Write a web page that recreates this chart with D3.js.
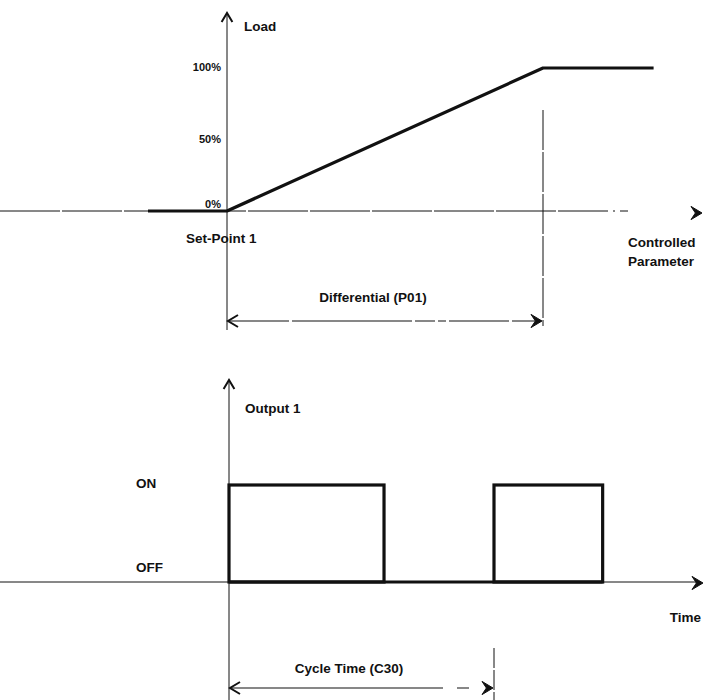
<!DOCTYPE html>
<html>
<head>
<meta charset="utf-8">
<script src="https://cdn.jsdelivr.net/npm/d3@7"></script>
<style>
  html, body { margin: 0; padding: 0; background: #fff; }
  svg { display: block; }
  text { font-family: "Liberation Sans", Arial, sans-serif; font-weight: bold; fill: #111; }
</style>
</head>
<body>
<svg id="chart" width="703" height="700"></svg>
<script>
// ---------- Data ----------
// Top: Load (%) vs controlled parameter (0 = Set-Point 1, 1 = Set-Point 1 + Differential)
const loadParam = [-0.25, 0, 1, 1.35];
const loadValue = [0, 0, 100, 100];
const loadTicks = [0, 50, 100];
const loadTickLabels = ["0%", "50%", "100%"];
const differential = 1;

// Bottom: Output 1 state vs time (in cycle-time units)
const pulseStart = [0, 1];
const pulseEnd = [0.585, 1.41];
const outputStates = [0, 1];
const outputStateLabels = ["OFF", "ON"];
const cycleTime = 1;

// ---------- Setup ----------
const svg = d3.select("#chart");
const ink = "#111";

function chevron(g, x, y, dir, size, filled) {
  const s = size;
  let pts;
  if (dir === "right") pts = [[x - s, y - s * 0.6], [x, y], [x - s, y + s * 0.6]];
  if (dir === "left") pts = [[x + s, y - s * 0.6], [x, y], [x + s, y + s * 0.6]];
  if (dir === "up") pts = [[x - s * 0.6, y + s], [x, y], [x + s * 0.6, y + s]];
  if (filled) {
    const inner = dir === "right" ? [x - s * 0.6, y] : dir === "left" ? [x + s * 0.6, y] : [x, y + s * 0.6];
    g.append("path").attr("d", d3.line()([pts[0], pts[1], pts[2], inner]) + "Z")
      .attr("fill", ink).attr("stroke", ink).attr("stroke-width", 1);
  } else {
    g.append("path").attr("d", d3.line()(pts)).attr("fill", "none")
      .attr("stroke", ink).attr("stroke-width", 2);
  }
}

// ---------- Top chart ----------
const gTop = svg.append("g");
const xTop = d3.scaleLinear().domain([0, 1]).range([227, 543]);
const yTop = d3.scaleLinear().domain([0, 100]).range([211, 68]);

gTop.append("line").attr("x1", xTop(0)).attr("x2", xTop(0)).attr("y1", 14).attr("y2", 330)
  .attr("stroke", ink).attr("stroke-width", 1);
chevron(gTop, xTop(0), 13, "up", 9, false);

gTop.append("line").attr("x1", 0).attr("x2", 600).attr("y1", yTop(0)).attr("y2", yTop(0))
  .attr("stroke", ink).attr("stroke-width", 1).attr("stroke-dasharray", "60,2");
gTop.append("line").attr("x1", 600).attr("x2", 632).attr("y1", yTop(0)).attr("y2", yTop(0))
  .attr("stroke", ink).attr("stroke-width", 1).attr("stroke-dasharray", "8,5,2,5");
chevron(gTop, 702, 213, "right", 11, true);

gTop.selectAll("text.tick").data(loadTicks).enter().append("text")
  .attr("class", "tick")
  .attr("x", 221)
  .attr("y", (d, i) => yTop(d) + (i === 0 ? -3 : 3))
  .attr("text-anchor", "end")
  .attr("font-size", 11)
  .text((d, i) => loadTickLabels[i]);

const loadLine = d3.line().x(d => xTop(d[0])).y(d => yTop(d[1]));
gTop.append("path")
  .attr("d", loadLine(d3.zip(loadParam, loadValue)))
  .attr("fill", "none").attr("stroke", ink).attr("stroke-width", 3.2)
  .attr("stroke-linejoin", "round");

gTop.append("line").attr("x1", xTop(differential)).attr("x2", xTop(differential))
  .attr("y1", 110).attr("y2", 326)
  .attr("stroke", ink).attr("stroke-width", 1).attr("stroke-dasharray", "40,2");

const yDiff = 321;
gTop.append("line").attr("x1", xTop(0) + 2).attr("x2", xTop(differential) - 2)
  .attr("y1", yDiff).attr("y2", yDiff).attr("stroke", ink).attr("stroke-width", 1.2)
  .attr("stroke-dasharray", "60,3,120,3,20,3,8,3");
chevron(gTop, xTop(0) + 1, yDiff, "left", 10, false);
chevron(gTop, xTop(differential) - 1, yDiff, "right", 11, true);

gTop.append("text").attr("x", 244).attr("y", 31).attr("font-size", 13.5).text("Load");
gTop.append("text").attr("x", 186).attr("y", 243).attr("font-size", 13.5).text("Set-Point 1");
gTop.append("text").attr("x", 628).attr("y", 247).attr("font-size", 13.5).text("Controlled");
gTop.append("text").attr("x", 628).attr("y", 266).attr("font-size", 13.5).text("Parameter");
gTop.append("text").attr("x", (xTop(0) + xTop(differential)) / 2 - 12).attr("y", 302)
  .attr("text-anchor", "middle").attr("font-size", 13.5).text("Differential (P01)");

// ---------- Bottom chart ----------
const gBot = svg.append("g");
const xBot = d3.scaleLinear().domain([0, 1]).range([229, 494]);
const yBot = d3.scaleLinear().domain([0, 1]).range([582, 485]);

gBot.append("line").attr("x1", xBot(0)).attr("x2", xBot(0)).attr("y1", 381).attr("y2", 700)
  .attr("stroke", ink).attr("stroke-width", 1);
chevron(gBot, xBot(0), 380, "up", 9, false);

gBot.append("line").attr("x1", 0).attr("x2", 700).attr("y1", yBot(0)).attr("y2", yBot(0))
  .attr("stroke", ink).attr("stroke-width", 1);
chevron(gBot, 703, yBot(0) + 1, "right", 11, true);

gBot.selectAll("text.state").data(outputStates).enter().append("text")
  .attr("class", "state")
  .attr("x", 136)
  .attr("y", d => yBot(d) + (d === 0 ? -10 : 3))
  .attr("font-size", 13.5)
  .text((d, i) => outputStateLabels[i]);

const pulses = d3.zip(pulseStart, pulseEnd);
gBot.append("line").attr("x1", xBot(0)).attr("x2", xBot(d3.max(pulseEnd)))
  .attr("y1", yBot(0)).attr("y2", yBot(0)).attr("stroke", ink).attr("stroke-width", 3.2);
gBot.selectAll("rect.pulse").data(pulses).enter().append("rect")
  .attr("class", "pulse")
  .attr("x", d => xBot(d[0]))
  .attr("y", yBot(1))
  .attr("width", d => xBot(d[1]) - xBot(d[0]))
  .attr("height", yBot(0) - yBot(1))
  .attr("fill", "none").attr("stroke", ink).attr("stroke-width", 3.2);

gBot.append("line").attr("x1", xBot(cycleTime)).attr("x2", xBot(cycleTime))
  .attr("y1", 648).attr("y2", 700)
  .attr("stroke", ink).attr("stroke-width", 1).attr("stroke-dasharray", "20,2");

const yCyc = 688;
gBot.append("line").attr("x1", xBot(0) + 2).attr("x2", xBot(cycleTime) - 2)
  .attr("y1", yCyc).attr("y2", yCyc).attr("stroke", ink).attr("stroke-width", 1.2)
  .attr("stroke-dasharray", "212,14,12,30");
chevron(gBot, xBot(0) + 1, yCyc, "left", 10, false);
chevron(gBot, xBot(cycleTime) - 1, yCyc, "right", 11, true);

gBot.append("text").attr("x", 245).attr("y", 413).attr("font-size", 13.5).text("Output 1");
gBot.append("text").attr("x", 701).attr("y", 622).attr("text-anchor", "end")
  .attr("font-size", 13.5).text("Time");
gBot.append("text").attr("x", 349).attr("y", 673)
  .attr("text-anchor", "middle").attr("font-size", 13.5).text("Cycle Time (C30)");
</script>
</body>
</html>
